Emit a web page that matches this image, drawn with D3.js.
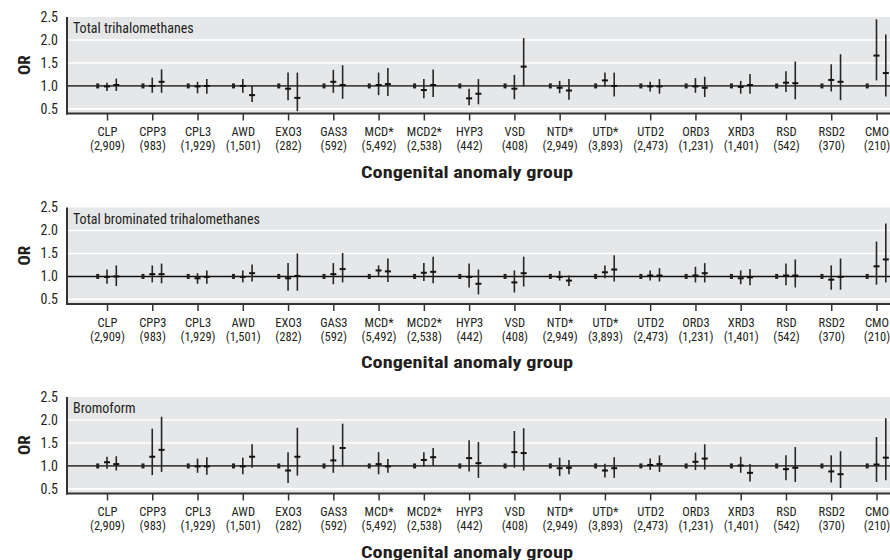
<!DOCTYPE html>
<html>
<head>
<meta charset="utf-8">
<script src="https://cdn.jsdelivr.net/npm/d3@7"></script>
<style>
  html, body { margin: 0; padding: 0; background: #fff; overflow: hidden; }
  svg { display: block; }
  text { font-family: 'Liberation Sans Narrow', 'Roboto Condensed', 'DejaVu Sans Condensed', sans-serif; fill: #231f20; }
</style>
</head>
<body>
<svg id="chart" width="890" height="560"></svg>
<script>
// ---------- data ----------
const categories = ["CLP","CPP3","CPL3","AWD","EXO3","GAS3","MCD*","MCD2*","HYP3","VSD","NTD*","UTD*","UTD2","ORD3","XRD3","RSD","RSD2","CMO"];
const caseCounts = ["(2,909)","(983)","(1,929)","(1,501)","(282)","(592)","(5,492)","(2,538)","(442)","(408)","(2,949)","(3,893)","(2,473)","(1,231)","(1,401)","(542)","(370)","(210)"];
const panelTitles = ["Total trihalomethanes","Total brominated trihalomethanes","Bromoform"];
const yTicks = [0.5, 1.0, 1.5, 2.0, 2.5];
const axisTitle = "Congenital anomaly group";
const yLabel = "OR";

// [OR, lower CI, upper CI] for middle and highest exposure level (lowest = reference, OR 1.0)
const thmMid  = [[0.99,0.89,1.07],[1.00,0.85,1.18],[0.99,0.84,1.09],[1.00,0.85,1.15],[0.94,0.69,1.29],[1.09,0.85,1.35],[1.02,0.80,1.29],[0.91,0.73,1.15],[0.73,0.58,0.94],[0.94,0.71,1.24],[0.96,0.84,1.11],[1.12,0.98,1.29],[0.99,0.88,1.09],[0.99,0.85,1.17],[0.98,0.83,1.11],[1.07,0.87,1.32],[1.13,0.88,1.47],[1.66,1.12,2.45]];
const thmHigh = [[1.02,0.89,1.16],[1.09,0.85,1.36],[1.00,0.83,1.15],[0.80,0.65,1.00],[0.74,0.45,1.29],[1.02,0.72,1.45],[1.04,0.78,1.39],[1.02,0.76,1.36],[0.83,0.60,1.15],[1.42,0.99,2.04],[0.90,0.70,1.15],[1.00,0.77,1.29],[0.99,0.83,1.15],[0.96,0.76,1.20],[1.02,0.83,1.26],[1.06,0.71,1.53],[1.09,0.69,1.69],[1.28,0.77,2.12]];
const tbmMid  = [[0.99,0.84,1.15],[1.05,0.87,1.24],[0.96,0.84,1.07],[0.99,0.87,1.13],[0.96,0.69,1.29],[1.05,0.83,1.29],[1.13,1.01,1.24],[1.08,0.90,1.29],[0.99,0.76,1.28],[0.87,0.65,1.13],[0.99,0.91,1.12],[1.09,0.96,1.24],[1.02,0.91,1.13],[1.02,0.87,1.21],[0.96,0.83,1.13],[1.02,0.81,1.28],[0.93,0.71,1.24],[1.22,0.82,1.76]];
const tbmHigh = [[1.00,0.79,1.24],[1.05,0.85,1.28],[0.99,0.84,1.13],[1.07,0.89,1.26],[1.01,0.69,1.50],[1.16,0.87,1.51],[1.11,0.88,1.39],[1.10,0.85,1.43],[0.84,0.61,1.15],[1.07,0.78,1.43],[0.91,0.79,1.02],[1.15,0.89,1.46],[1.02,0.89,1.18],[1.07,0.87,1.29],[0.98,0.81,1.16],[1.02,0.76,1.37],[0.99,0.71,1.39],[1.37,0.87,2.15]];
const bfMid   = [[1.08,0.94,1.20],[1.20,0.80,1.81],[0.99,0.85,1.16],[0.99,0.82,1.18],[0.90,0.63,1.30],[1.12,0.85,1.45],[1.04,0.82,1.30],[1.13,0.99,1.30],[1.17,0.88,1.56],[1.30,0.96,1.76],[0.95,0.78,1.18],[0.90,0.75,1.05],[1.02,0.91,1.16],[1.09,0.91,1.29],[1.01,0.85,1.20],[0.93,0.69,1.23],[0.88,0.64,1.23],[1.03,0.65,1.63]];
const bfHigh  = [[1.04,0.90,1.21],[1.35,0.87,2.07],[0.99,0.81,1.19],[1.20,0.96,1.47],[1.20,0.79,1.83],[1.39,0.99,1.92],[0.99,0.85,1.15],[1.19,1.01,1.39],[1.06,0.74,1.52],[1.28,0.90,1.82],[0.96,0.82,1.13],[0.95,0.74,1.19],[1.04,0.87,1.23],[1.16,0.92,1.47],[0.85,0.66,1.04],[0.96,0.65,1.41],[0.82,0.52,1.32],[1.18,0.69,2.04]];

const panelData = [[thmMid, thmHigh],[tbmMid, tbmHigh],[bfMid, bfHigh]];

// ---------- layout ----------
const FONT = "'Liberation Sans Narrow', 'Roboto Condensed', 'DejaVu Sans Condensed', sans-serif";
const svg = d3.select("#chart");
const plotLeft = 67, plotRight = 890;
const panelTops = [17, 207.5, 397];
const panelH = 96.5;

const x = d3.scalePoint().domain(categories).range([107, 876.5]);
const levels = ["ref","mid","high"];
const xOff = d3.scalePoint().domain(levels).range([-9.3, 9.3]);

panelData.forEach((series, p) => {
  const top = panelTops[p];
  const bottom = top + panelH;
  const y = d3.scaleLinear().domain([0.4, 2.5]).range([bottom, top]);
  const g = svg.append("g");

  // background
  g.append("rect").attr("x", plotLeft).attr("y", top).attr("width", plotRight - plotLeft).attr("height", bottom - top).attr("fill", "#e6e7e9");

  // white gridlines
  g.selectAll(".grid").data(yTicks.filter(v => v !== 1.0 && v !== 2.5)).enter().append("line")
    .attr("x1", plotLeft).attr("x2", plotRight)
    .attr("y1", d => y(d)).attr("y2", d => y(d))
    .attr("stroke", "#ffffff").attr("stroke-width", 1.6);

  // reference line at OR = 1
  g.append("line").attr("x1", plotLeft).attr("x2", plotRight)
    .attr("y1", y(1)).attr("y2", y(1))
    .attr("stroke", p === 1 ? "#111" : "#444").attr("stroke-width", p === 1 ? 1.4 : 1.8);

  // panel title
  g.append("text").attr("x", plotLeft + 6).attr("y", top + 16)
    .attr("font-size", 14).text(panelTitles[p]);

  // reference level markers
  g.selectAll(".ref").data(categories).enter().append("rect")
    .attr("x", d => x(d) + xOff("ref") - 1.5).attr("y", y(1) - 2.5)
    .attr("width", 3).attr("height", 5).attr("fill", "#222");

  // CI bars and estimates
  ["mid","high"].forEach((lvl, li) => {
    const vals = series[li].map((v, i) => ({cat: categories[i], or: v[0], lo: v[1], hi: v[2]}));
    g.selectAll(".ci" + lvl).data(vals).enter().append("line")
      .attr("x1", d => x(d.cat) + xOff(lvl)).attr("x2", d => x(d.cat) + xOff(lvl))
      .attr("y1", d => y(d.lo)).attr("y2", d => y(d.hi))
      .attr("stroke", "#262626").attr("stroke-width", 1.6);
    g.selectAll(".pt" + lvl).data(vals).enter().append("rect")
      .attr("x", d => x(d.cat) + xOff(lvl) - 3).attr("y", d => y(d.or) - 1)
      .attr("width", 6).attr("height", 2).attr("fill", "#111");
  });

  // y axis
  const yAxis = d3.axisLeft(y).tickValues(yTicks).tickFormat(d3.format(".1f")).tickSize(0).tickPadding(9);
  const ya = g.append("g").attr("transform", `translate(${plotLeft},0)`).call(yAxis);
  ya.select(".domain").remove();
  ya.selectAll("text").attr("font-size", 14).attr("fill", "#231f20").style("font-family", FONT);
  g.append("line").attr("x1", plotLeft).attr("x2", plotLeft).attr("y1", top).attr("y2", bottom + 1)
    .attr("stroke", "#333").attr("stroke-width", 2);

  // x axis
  const xAxis = d3.axisBottom(x).tickSize(7).tickSizeOuter(0).tickPadding(4);
  const xa = g.append("g").attr("transform", `translate(0,${bottom})`).call(xAxis);
  xa.select(".domain").remove();
  xa.selectAll(".tick line").attr("stroke", "#333").attr("stroke-width", 1.5);
  xa.selectAll(".tick text").attr("font-size", 12.5).attr("fill", "#231f20").style("font-family", FONT)
    .attr("y", 22.5).attr("dy", 0);
  xa.selectAll(".tick").append("text")
    .attr("fill", "#231f20").attr("font-size", 12.5).style("font-family", FONT)
    .attr("text-anchor", "middle").attr("y", 36.5)
    .text(d => caseCounts[categories.indexOf(d)]);
  g.append("line").attr("x1", plotLeft - 1).attr("x2", plotRight).attr("y1", bottom).attr("y2", bottom)
    .attr("stroke", "#333").attr("stroke-width", 2);

  // axis titles
  g.append("text").attr("x", 467).attr("y", bottom + 64).attr("text-anchor", "middle")
    .attr("font-size", 17).attr("font-weight", "bold")
    .attr("textLength", 212).attr("lengthAdjust", "spacingAndGlyphs").text(axisTitle);
  g.append("text").attr("transform", `translate(30,${(top + bottom) / 2}) rotate(-90)`)
    .attr("text-anchor", "middle").attr("font-size", 17).attr("font-weight", "bold").text(yLabel);
});
</script>
</body>
</html>
